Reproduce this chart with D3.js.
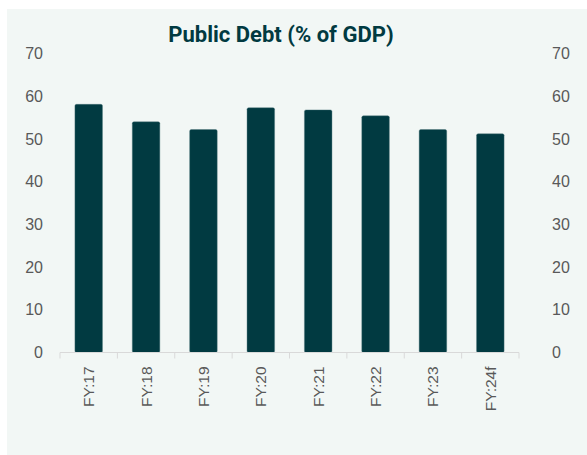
<!DOCTYPE html>
<html>
<head>
<meta charset="utf-8">
<script src="https://cdn.jsdelivr.net/npm/d3@7"></script>
<style>
  body { margin: 0; background: #fff; }
  svg { display: block; }
</style>
</head>
<body>
<svg id="chart" width="587" height="455"></svg>
<script>
// 数据
var years = ["FY:17", "FY:18", "FY:19", "FY:20", "FY:21", "FY:22", "FY:23", "FY:24f"];
var debt = [58.1, 54.0, 52.2, 57.3, 56.8, 55.4, 52.2, 51.2];
var yTicks = [0, 10, 20, 30, 40, 50, 60, 70];

var margin = {top: 53.5, left: 60, right: 68, bottom: 102.5};
var width = 587, height = 455;
var barColor = "#013a41", textColor = "#595959";
var labelFont = "'Liberation Sans', Arial, sans-serif";

var svg = d3.select("#chart");

// 背景
svg.append("rect")
    .attr("x", 7).attr("y", 9)
    .attr("width", width - 7).attr("height", height - 9)
    .attr("fill", "#f2f7f5");

// 标题
svg.append("text")
    .attr("x", 281).attr("y", 42)
    .attr("text-anchor", "middle")
    .attr("font-family", "Roboto, 'Liberation Sans', sans-serif")
    .attr("font-weight", "bold")
    .attr("font-size", 22)
    .attr("fill", barColor)
    .text("Public Debt (% of GDP)");

// 比例尺
var x = d3.scaleBand()
    .domain(years)
    .range([margin.left, width - margin.right])
    .paddingInner(0.52)
    .paddingOuter(0.26);
var y = d3.scaleLinear()
    .domain([0, 70])
    .range([height - margin.bottom, margin.top]);

// 柱子
svg.append("g").selectAll("rect")
    .data(debt)
    .enter()
    .append("rect")
    .attr("x", (d, i) => x(years[i]))
    .attr("y", d => y(d))
    .attr("width", x.bandwidth())
    .attr("height", d => y(0) - y(d))
    .attr("rx", 1.5)
    .attr("fill", barColor)
    .attr("stroke", "#4d7378")
    .attr("stroke-width", 0.4);

// 左右纵轴
function yAxis(axis, xpos, anchor) {
    var g = svg.append("g")
        .attr("transform", "translate(" + xpos + ",0)")
        .call(axis.tickValues(yTicks).tickSize(0).tickPadding(0));
    g.select(".domain").remove();
    g.selectAll("text")
        .attr("font-family", labelFont)
        .attr("font-size", 16)
        .attr("fill", textColor)
        .attr("text-anchor", anchor);
}
yAxis(d3.axisLeft(y), 43, "end");
yAxis(d3.axisRight(y), 552, "start");

// 横轴
var x0 = margin.left, x1 = width - margin.right;
var gx = svg.append("g");
gx.append("line")
    .attr("x1", x0).attr("x2", x1)
    .attr("y1", y(0)).attr("y2", y(0))
    .attr("stroke", "#d9d9d9").attr("stroke-width", 1);
var step = x.step();
gx.selectAll(".tick")
    .data(d3.range(years.length + 1))
    .enter()
    .append("line")
    .attr("x1", i => x0 + i * step).attr("x2", i => x0 + i * step)
    .attr("y1", y(0)).attr("y2", y(0) + 6)
    .attr("stroke", "#d9d9d9").attr("stroke-width", 1);

gx.selectAll("text")
    .data(years)
    .enter()
    .append("text")
    .attr("transform", d => "translate(" + (x(d) + x.bandwidth() / 2 + 5.5) + "," + (y(0) + 14) + ") rotate(-90)")
    .attr("text-anchor", "end")
    .attr("font-family", labelFont)
    .attr("font-size", 15.5)
    .attr("fill", textColor)
    .text(d => d);
</script>
</body>
</html>
